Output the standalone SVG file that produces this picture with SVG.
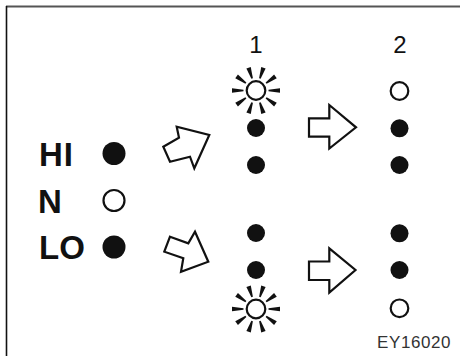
<svg xmlns="http://www.w3.org/2000/svg" xmlns:xlink="http://www.w3.org/1999/xlink" width="460" height="356" viewBox="0 0 460 356">
  <style>
    .lbl { font-family: "Liberation Sans", Arial, sans-serif; font-weight: bold; font-size: 33px; fill: #111; }
    .num { font-family: "Liberation Sans", Arial, sans-serif; font-size: 24px; fill: #111; text-anchor: middle; }
    .code { font-family: "Liberation Sans", Arial, sans-serif; font-size: 17px; fill: #333; letter-spacing: 0.6px; }
    .on { fill: #111; }
    .off { fill: #fff; stroke: #111; stroke-width: 2.2; }
    .arrow { fill: #fff; stroke: #111; stroke-width: 2.2; stroke-linejoin: miter; }
    .ray { fill: #111; }
  </style>
  <defs>
    <polygon id="ray" class="ray" points="12.5,-0.8 24,-2.3 24,2.3 12.5,0.8"/>
    <g id="sun">
      <circle r="9.3" class="off"/>
      <use xlink:href="#ray" href="#ray"/>
      <use xlink:href="#ray" href="#ray" transform="rotate(36)"/>
      <use xlink:href="#ray" href="#ray" transform="rotate(72)"/>
      <use xlink:href="#ray" href="#ray" transform="rotate(108)"/>
      <use xlink:href="#ray" href="#ray" transform="rotate(144)"/>
      <use xlink:href="#ray" href="#ray" transform="rotate(180)"/>
      <use xlink:href="#ray" href="#ray" transform="rotate(216)"/>
      <use xlink:href="#ray" href="#ray" transform="rotate(252)"/>
      <use xlink:href="#ray" href="#ray" transform="rotate(288)"/>
      <use xlink:href="#ray" href="#ray" transform="rotate(324)"/>
    </g>
  </defs>

  <rect width="460" height="356" fill="#fff"/>
  <g id="frame">
    <line x1="6" y1="6.5" x2="460" y2="6.5" stroke="#555" stroke-width="2"/>
    <line x1="6.5" y1="6" x2="6.5" y2="356" stroke="#111" stroke-width="1.6"/>
  </g>

  <g id="selector">
    <text class="lbl" x="39" y="165.5" letter-spacing="1">HI</text>
    <text class="lbl" x="38" y="212.5">N</text>
    <text class="lbl" x="39" y="259">LO</text>
    <circle cx="114" cy="153.5" r="11.5" class="on"/>
    <circle cx="114" cy="200.5" r="10.5" class="off"/>
    <circle cx="114" cy="247" r="11.5" class="on"/>
  </g>

  <g id="step1">
    <text class="num" x="256" y="53">1</text>
    <use xlink:href="#sun" href="#sun" transform="translate(256,90.5)"/>
    <circle cx="256" cy="128" r="9" class="on"/>
    <circle cx="256" cy="165" r="9" class="on"/>
    <circle cx="256" cy="233" r="9" class="on"/>
    <circle cx="256" cy="270" r="9" class="on"/>
    <use xlink:href="#sun" href="#sun" transform="translate(256,309)"/>
  </g>

  <g id="step2">
    <text class="num" x="400" y="53">2</text>
    <circle cx="399.5" cy="91" r="8.8" class="off"/>
    <circle cx="399.5" cy="128.3" r="9" class="on"/>
    <circle cx="399.5" cy="165" r="9" class="on"/>
    <circle cx="399.5" cy="233.3" r="9" class="on"/>
    <circle cx="399.5" cy="270" r="9" class="on"/>
    <circle cx="399.5" cy="308.3" r="8.8" class="off"/>
  </g>

  <g id="connectors">
    <polygon class="arrow" points="163.3,146.7 179,137.7 176.7,126.7 209.3,135 194.3,168.3 190,156.7 170,161.7"/>
    <polygon class="arrow" points="170,236.7 188.3,243.3 195,231.7 208.3,261.7 181,271.7 183.3,258.3 164.3,251.7"/>
    <polygon class="arrow" points="309,118.3 329.3,118.3 329.3,105 356,127.3 329.3,148.5 329.3,136.7 309,136.7"/>
    <polygon class="arrow" points="309,261.5 329.3,261.5 329.3,248.3 355.5,270 329.3,292.5 329.3,280 309,280"/>
  </g>

  <g id="caption">
    <text class="code" x="377" y="348">EY16020</text>
  </g>
</svg>
